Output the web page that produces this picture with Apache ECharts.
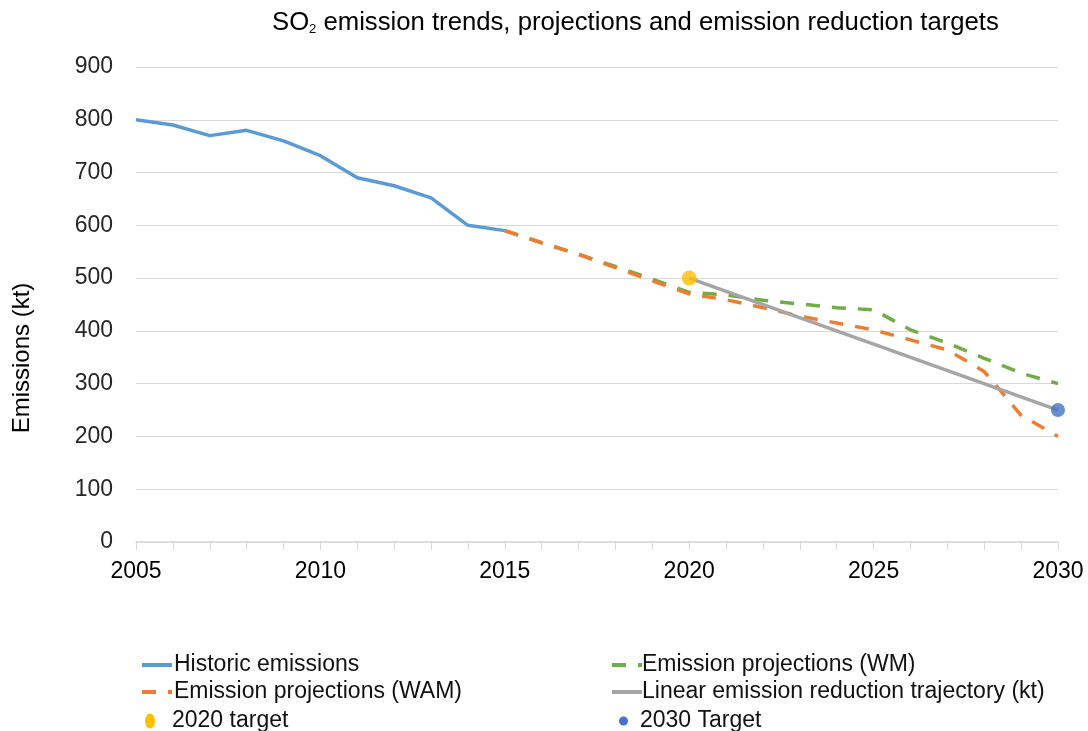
<!DOCTYPE html>
<html><head><meta charset="utf-8">
<script src="https://cdn.jsdelivr.net/npm/echarts@6/dist/echarts.min.js"></script>
<style>html,body{margin:0;padding:0;background:#fff}#c{width:1088px;height:731px}</style>
</head><body><div id="c"></div>
<script>
const histYears = [2005,2006,2007,2008,2009,2010,2011,2012,2013,2014,2015];
const histValues = [800,790,770,780,760,732,690,675,652,600,590];
const projYears = [2015,2016,2017,2018,2019,2020,2021,2022,2023,2024,2025,2026,2027,2028,2029,2030];
const wmValues = [590,567,545,522,498,473,468,458,451,444,440,402,377,348,320,300];
const wamValues = [590,567,545,520,495,470,459,444,428,415,402,383,364,323,240,200];
const linearYears = [2020,2030];
const linearValues = [500,250];
const target2020 = [2020,500];
const target2030 = [2030,250];
const yTicks = [0,100,200,300,400,500,600,700,800,900];
const xTicks = [2005,2010,2015,2020,2025,2030];
const seriesNames = ['Historic emissions','Emission projections (WM)','Emission projections (WAM)',
  'Linear emission reduction trajectory (kt)','2020 target','2030 Target'];

const zip = (xs, ys) => xs.map((x,i)=>[x,ys[i]]);
const FONT = 'Liberation Sans';
const DASH = [14,12];

function legendItem(name, left, centerY, opts){
  const fs = 23;
  return Object.assign({
    orient:'horizontal', left:left, top:centerY - fs/2 + 2, padding:0, itemGap:0,
    itemWidth:30, itemHeight:14, selectedMode:false,
    itemStyle:{opacity:0},
    lineStyle:{width:4},
    textStyle:{fontFamily:FONT,fontSize:fs,color:'#111',padding:[0,0,0,-5],lineHeight:fs},
    data:[{name:name}]
  }, opts||{});
}
const ellipse = 'path://M5,0A5,7.5,0,1,1,5,15A5,7.5,0,1,1,5,0Z';

const chart = echarts.init(document.getElementById('c'), null, {renderer:'canvas'});
chart.setOption({
  animation:false,
  backgroundColor:'#fff',
  textStyle:{fontFamily:FONT},
  title:{
    text:'SO{sub|2} emission trends, projections and emission reduction targets',
    left:272, top:10, padding:0,
    textStyle:{fontFamily:FONT,fontSize:25.7,fontWeight:'normal',color:'#000',
      rich:{sub:{fontFamily:FONT,fontSize:13,color:'#000',verticalAlign:'bottom',padding:[12,0,0,0]}}}
  },
  grid:{left:136,right:30,top:67,bottom:189,containLabel:false},
  xAxis:{
    type:'value', min:xTicks[0], max:xTicks[xTicks.length-1], interval:5,
    axisLine:{show:true,lineStyle:{color:'#d9d9d9',width:1.5}},
    axisTick:{show:true,length:8,lineStyle:{color:'#d9d9d9'}},
    minorTick:{show:true,splitNumber:5,length:8,lineStyle:{color:'#d9d9d9'}},
    splitLine:{show:false},
    axisLabel:{fontFamily:FONT,fontSize:23,color:'#000',margin:18,formatter:v=>String(v)}
  },
  yAxis:{
    type:'value', min:yTicks[0], max:yTicks[yTicks.length-1], interval:100,
    axisLine:{show:false}, axisTick:{show:false},
    splitLine:{lineStyle:{color:'#d9d9d9',width:1}},
    axisLabel:{fontFamily:FONT,fontSize:23,color:'#262626',margin:23}
  },
  graphic:[{
    type:'text', x:22, y:358, rotation:Math.PI/2,
    style:{text:'Emissions (kt)',fontFamily:FONT,fontSize:24,fill:'#000',align:'center',verticalAlign:'middle'}
  }],
  legend:[
    legendItem(seriesNames[0], 140, 663, {textStyle:{fontFamily:FONT,fontSize:23,color:'#111',padding:[0,0,0,-3]}}),
    legendItem(seriesNames[2], 140, 690, {textStyle:{fontFamily:FONT,fontSize:23,color:'#111',padding:[0,0,0,-3]}}),
    legendItem(seriesNames[4], 145, 719, {itemWidth:10,itemHeight:15,itemStyle:{opacity:1},
      data:[{name:seriesNames[4],icon:ellipse}],
      textStyle:{fontFamily:FONT,fontSize:23,color:'#111',padding:[0,0,0,12]}}),
    legendItem(seriesNames[1], 610, 663),
    legendItem(seriesNames[3], 610, 690),
    legendItem(seriesNames[5], 619, 719, {itemWidth:9,itemHeight:9,itemStyle:{opacity:1},
      data:[{name:seriesNames[5],icon:'circle'}],
      textStyle:{fontFamily:FONT,fontSize:23,color:'#111',padding:[0,0,0,7]}})
  ],
  series:[
    {name:seriesNames[0],type:'line',data:zip(histYears,histValues),showSymbol:false,symbol:'none',
      lineStyle:{color:'#5B9BD5',width:3.5},itemStyle:{color:'#5B9BD5'},z:3},
    {name:seriesNames[1],type:'line',data:zip(projYears,wmValues),showSymbol:false,symbol:'none',
      lineStyle:{color:'#70AD47',width:3.5,type:DASH},itemStyle:{color:'#70AD47'},z:2},
    {name:seriesNames[2],type:'line',data:zip(projYears,wamValues),showSymbol:false,symbol:'none',
      lineStyle:{color:'#ED7D31',width:3.5,type:DASH},itemStyle:{color:'#ED7D31'},z:3},
    {name:seriesNames[3],type:'line',data:zip(linearYears,linearValues),showSymbol:false,symbol:'none',
      lineStyle:{color:'#A5A5A5',width:3.5},itemStyle:{color:'#A5A5A5'},z:4},
    {name:seriesNames[4],type:'scatter',data:[target2020],symbol:'circle',symbolSize:15,itemStyle:{color:'#FFC000'},z:5},
    {name:seriesNames[5],type:'scatter',data:[target2030],symbol:'circle',symbolSize:14,itemStyle:{color:'#4472C4'},z:5}
  ]
});
</script></body></html>
